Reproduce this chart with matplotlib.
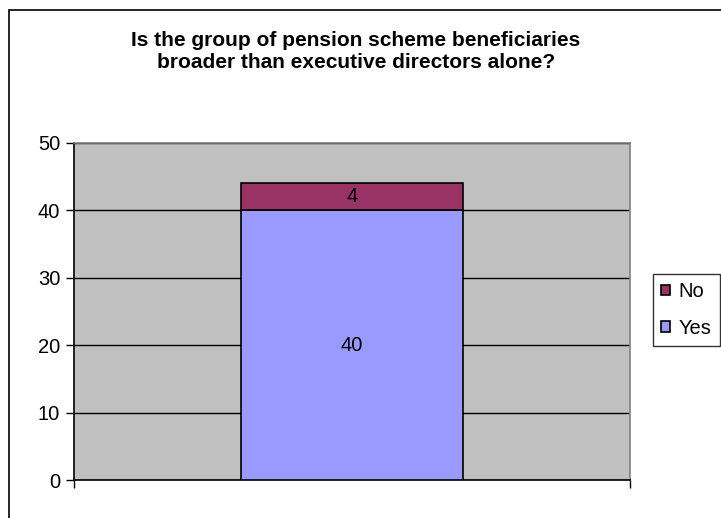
import matplotlib.pyplot as plt
from matplotlib.patches import Rectangle

plt.rcParams['font.family'] = ['Liberation Sans', 'DejaVu Sans']

# Data
categories = ['']
yes_counts = [40]
no_counts = [4]
series_labels = ['Yes', 'No']
yticks = [0, 10, 20, 30, 40, 50]

W, H = 721, 518
fig = plt.figure(figsize=(W / 100, H / 100), dpi=100)

# outer chart frame (runs off right and bottom edges)
fig.add_artist(Rectangle((9 / W, -0.1), 1.2, 1.1 - 10 / H, transform=fig.transFigure,
                         fill=False, edgecolor='black', linewidth=1.2))

ax = fig.add_axes([74 / W, 1 - 480 / H, (630 - 74) / W, (480 - 143) / H])
ax.set_facecolor('#C0C0C0')

x = range(len(categories))
b1 = ax.bar(x, yes_counts, 0.4, color='#9999FF', edgecolor='black', linewidth=1.2,
            label=series_labels[0], zorder=3)
b2 = ax.bar(x, no_counts, 0.4, bottom=yes_counts, color='#993366', edgecolor='black',
            linewidth=1.2, label=series_labels[1], zorder=3)

for i in x:
    ax.text(i, yes_counts[i] / 2, str(yes_counts[i]), ha='center', va='center',
            fontsize=14.5, zorder=4)
    ax.text(i, yes_counts[i] + no_counts[i] / 2, str(no_counts[i]), ha='center',
            va='center', fontsize=14.5, zorder=4)

ax.set_xlim(-0.5, 0.5)
ax.set_ylim(0, 50)
ax.set_yticks(yticks)
ax.set_xticks([-0.5, 0.5])
ax.set_xticklabels([])
ax.tick_params(axis='y', labelsize=14.5, length=6, width=1, direction='out', pad=4)
ax.tick_params(axis='x', length=6, width=1, direction='out')
ax.grid(axis='y', color='black', linewidth=1, zorder=1)
ax.set_axisbelow(True)

for side in ['top', 'right']:
    ax.spines[side].set_color('#808080')
    ax.spines[side].set_linewidth(1.2)
for side in ['left', 'bottom']:
    ax.spines[side].set_color('black')
    ax.spines[side].set_linewidth(1.2)

fig.text(356 / W, 1 - 40 / H, 'Is the group of pension scheme beneficiaries',
         ha='center', va='center', fontsize=15, fontweight='bold')
fig.text(356 / W, 1 - 63 / H, 'broader than executive directors alone?',
         ha='center', va='center', fontsize=15, fontweight='bold')

leg = fig.legend(handles=[b2, b1], labels=['No', 'Yes'], loc='center left',
                 bbox_to_anchor=(653 / W, 1 - 310 / H), fontsize=14.5, frameon=True,
                 fancybox=False, edgecolor='black', handlelength=0.42, handleheight=0.42,
                 handletextpad=0.45, borderpad=0.4, labelspacing=0.85, borderaxespad=0)
leg.get_frame().set_linewidth(1)

fig.savefig('out.png', dpi=100)
